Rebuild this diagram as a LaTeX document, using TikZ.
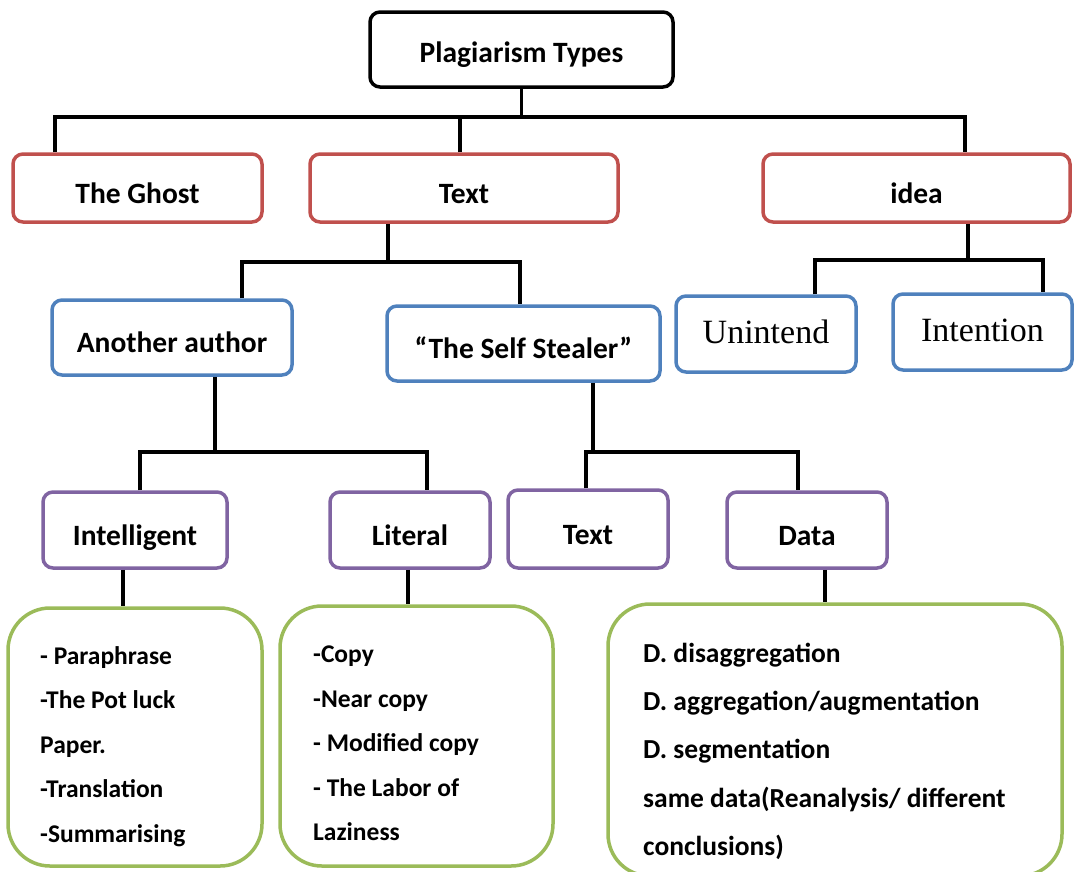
\documentclass[tikz,border=0pt]{standalone}
\usepackage{fontspec}
\setmainfont{Carlito}
\newfontfamily\timesfont{Liberation Serif}

\definecolor{boxred}{HTML}{C0504D}
\definecolor{boxblue}{HTML}{4F81BD}
\definecolor{boxpurple}{HTML}{8064A2}
\definecolor{boxgreen}{HTML}{9BBB59}

\tikzset{
  box/.style={draw, line width=3.5pt, rounded corners=10pt, inner sep=0pt,
    text height=30pt, text depth=0pt,
    font=\fontsize{29.5}{31}\selectfont\bfseries},
  redbox/.style={box, draw=boxred},
  bluebox/.style={box, draw=boxblue},
  purplebox/.style={box, draw=boxpurple},
  serifbox/.style={bluebox, text height=22pt, text depth=4pt, font=\fontsize{34}{36}\timesfont},
  listbox/.style={draw=boxgreen, line width=3.5pt, rounded corners=42pt, inner sep=0pt},
  listtext/.style={anchor=north west, inner sep=0pt, align=left},
  conn/.style={line width=3.5pt},
}

\begin{document}
\begin{tikzpicture}[x=1pt, y=-1pt]
  \useasboundingbox (0,0) rectangle (1075,871);

  % Root
  \node[box, draw=black, minimum width=303pt, minimum height=75pt, text height=25pt] (root) at (521.5,49.5) {Plagiarism Types};

  % First level
  \node[redbox, minimum width=249pt, minimum height=68pt] (ghost) at (137.5,188) {The Ghost};
  \node[redbox, minimum width=308pt, minimum height=68pt] (text) at (464,188) {Text};
  \node[redbox, minimum width=307pt, minimum height=68pt] (idea) at (916.5,188) {idea};

  % Second level
  \node[bluebox, minimum width=240pt, minimum height=75pt] (author) at (172,337.5) {Another author};
  \node[bluebox, minimum width=273pt, minimum height=75pt] (self) at (523.5,343.5) {“The Self Stealer”};
  \node[serifbox, minimum width=180pt, minimum height=76pt] (unintend) at (766,334) {Unintend};
  \node[serifbox, minimum width=179pt, minimum height=76pt] (intention) at (982.5,332) {Intention};

  % Third level
  \node[purplebox, minimum width=184pt, minimum height=76pt] (intel) at (135,530) {Intelligent};
  \node[purplebox, minimum width=160pt, minimum height=76pt] (literal) at (410,530) {Literal};
  \node[purplebox, minimum width=160pt, minimum height=78pt] (selftext) at (588,529) {Text};
  \node[purplebox, minimum width=160pt, minimum height=76pt] (data) at (807,530) {Data};

  % Lists
  \node[listbox, minimum width=254pt, minimum height=258pt] (intellist) at (135,737) {};
  \node[listbox, minimum width=273pt, minimum height=260pt] (literallist) at (416.5,736) {};
  \node[listbox, minimum width=454pt, minimum height=272pt] (datalist) at (835,740) {};

  \begin{scope}[font=\fontsize{25.5}{44.5}\selectfont\bfseries]
    \node[listtext] (intelitems) at (40,646) {- Paraphrase\\-The Pot luck\\Paper.\\-Translation\\-Summarising};
    \node[listtext] (literalitems) at (313,646) {-Copy\\-Near copy\\- Modified copy\\- The Labor of\\Laziness};
  \end{scope}
  \node[listtext, font=\fontsize{27.5}{48.2}\selectfont\bfseries] (dataitems) at (643,643)
    {D. disaggregation\\D. aggregation/augmentation\\D. segmentation\\same data(Reanalysis/ different\\conclusions)};

  % Connectors from root
  \coordinate (busA) at (55,117);
  \coordinate (busB) at (965,117);
  \coordinate (busT) at (460,117);
  \draw[conn] (root.south) -- (root.south |- busA);
  \draw[conn] (ghost.north -| busA) -- (busA) -- (busB) -- (idea.north -| busB);
  \draw[conn] (text.north -| busT) -- (busT);

  % Connectors from Text
  \coordinate (busC) at (242,262);
  \coordinate (busD) at (520,262);
  \coordinate (dropT) at (388,262);
  \draw[conn] (text.south -| dropT) -- (dropT);
  \draw[conn] (author.north -| busC) -- (busC) -- (busD) -- (self.north -| busD);

  % Connectors from idea
  \coordinate (busE) at (815,260);
  \coordinate (busF) at (1043,260);
  \coordinate (dropI) at (968,260);
  \draw[conn] (idea.south -| dropI) -- (dropI);
  \draw[conn] (unintend.north -| busE) -- (busE) -- (busF) -- (intention.north -| busF);

  % Connectors from Another author
  \coordinate (busG) at (140,452);
  \coordinate (busH) at (427,452);
  \coordinate (dropA) at (215,452);
  \draw[conn] (author.south -| dropA) -- (dropA);
  \draw[conn] (intel.north -| busG) -- (busG) -- (busH) -- (literal.north -| busH);

  % Connectors from the Self Stealer
  \coordinate (busJ) at (586,452);
  \coordinate (busK) at (798,452);
  \coordinate (dropS) at (593,452);
  \draw[conn] (self.south -| dropS) -- (dropS);
  \draw[conn] (selftext.north -| busJ) -- (busJ) -- (busK) -- (data.north -| busK);

  % Down to the lists
  \draw[conn] ([xshift=-12pt]intel.south) -- ([xshift=-12pt]intel.south |- intellist.north);
  \draw[conn] ([xshift=-2pt]literal.south) -- ([xshift=-2pt]literal.south |- literallist.north);
  \draw[conn] ([xshift=18pt]data.south) -- ([xshift=18pt]data.south |- datalist.north);
\end{tikzpicture}
\end{document}
